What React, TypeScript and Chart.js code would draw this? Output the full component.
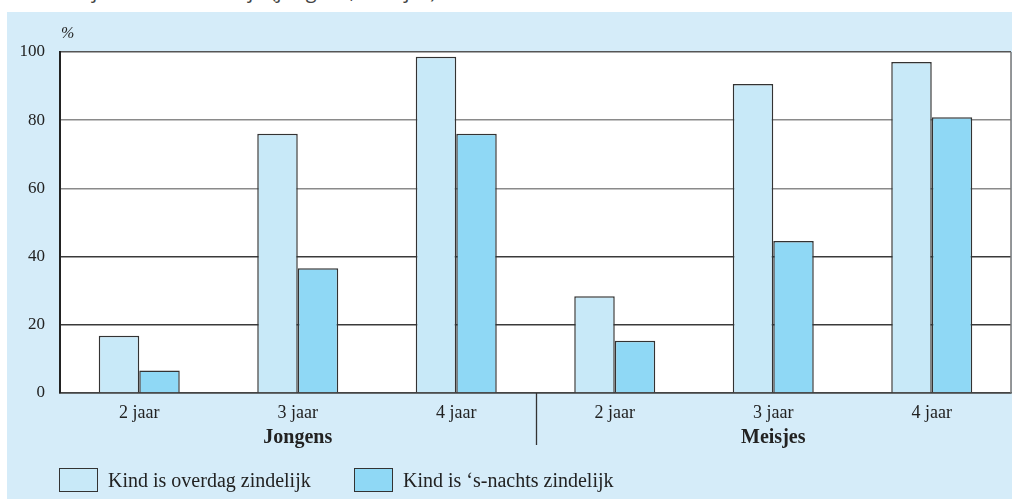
import React, { useEffect, useRef } from "react";
import { Chart, registerables } from "chart.js";

Chart.register(...registerables);

const categories = ["2 jaar", "3 jaar", "4 jaar", "2 jaar", "3 jaar", "4 jaar"];
const groups = ["Jongens", "Meisjes"];
const seriesNames = ["Kind is overdag zindelijk", "Kind is \u2018s-nachts zindelijk"];
const overdag = [16.8, 76.0, 98.6, 28.4, 90.6, 97.1];
const snachts = [6.6, 36.6, 76.0, 15.3, 44.6, 80.9];
const yTicks = [0, 20, 40, 60, 80, 100];
const unitLabel = "%";
const captionText = "Zindelijkheid naar leeftijd (jongens, meisjes)";

const LIGHT = "#c8e9f8";
const DARK = "#8fd8f5";
const PANEL = "#d5ecf9";
const FONT = "'Liberation Serif', 'Times New Roman', serif";

const decorPlugin = {
  id: "decor",
  beforeDraw(chart: any) {
    const { ctx, chartArea } = chart;
    ctx.save();
    ctx.fillStyle = "#ffffff";
    ctx.fillRect(chartArea.left, chartArea.top, chartArea.right - chartArea.left, chartArea.bottom - chartArea.top);
    ctx.restore();
  },
  afterDraw(chart: any) {
    const { ctx, chartArea, scales } = chart;
    const xs = scales.x;
    ctx.save();
    // right border of plot
    ctx.strokeStyle = "#777";
    ctx.lineWidth = 1.5;
    ctx.beginPath();
    ctx.moveTo(chartArea.right, chartArea.top);
    ctx.lineTo(chartArea.right, chartArea.bottom);
    ctx.stroke();
    // group labels and separators
    ctx.fillStyle = "#222";
    ctx.font = `bold 20px ${FONT}`;
    ctx.textAlign = "center";
    ctx.textBaseline = "middle";
    const per = categories.length / groups.length;
    groups.forEach((g, gi) => {
      const a = xs.getPixelForValue(gi * per);
      const b = xs.getPixelForValue(gi * per + per - 1);
      ctx.fillText(g, (a + b) / 2, chartArea.bottom + 45);
      if (gi > 0) {
        const prev = xs.getPixelForValue(gi * per - 1);
        const sx = Math.round((prev + a) / 2) + 0.5;
        ctx.strokeStyle = "#333";
        ctx.lineWidth = 1.3;
        ctx.beginPath();
        ctx.moveTo(sx, chartArea.bottom);
        ctx.lineTo(sx, chartArea.bottom + 52);
        ctx.stroke();
      }
    });
    // unit label
    ctx.font = `italic 16px ${FONT}`;
    ctx.textAlign = "left";
    ctx.fillText(unitLabel, chartArea.left + 1, chartArea.top - 18);
    ctx.restore();
  },
};

function gridColor(v: number) {
  if (v === 60 || v === 80) return "#8a8a8a";
  if (v === 100) return "#555";
  return "#3a3a3a";
}

export default function App() {
  const ref = useRef<HTMLCanvasElement | null>(null);

  useEffect(() => {
    document.body.style.margin = "0";
    const canvas = ref.current;
    if (!canvas) return;
    const chart = new Chart(canvas, {
      type: "bar",
      data: {
        labels: categories,
        datasets: [
          {
            label: seriesNames[0],
            data: overdag,
            backgroundColor: LIGHT,
            borderColor: "#333",
            borderWidth: 1.5,
          },
          {
            label: seriesNames[1],
            data: snachts,
            backgroundColor: DARK,
            borderColor: "#333",
            borderWidth: 1.5,
          },
        ],
      },
      options: {
        animation: false,
        responsive: false,
        devicePixelRatio: 1,
        layout: { padding: { left: 0, right: 1, top: 52, bottom: 0 } },
        datasets: { bar: { categoryPercentage: 0.511, barPercentage: 1.0 } },
        plugins: {
          legend: { display: false },
          tooltip: { enabled: false },
          title: { display: false },
        },
        scales: {
          x: {
            grid: { display: false, drawTicks: false },
            border: { display: true, color: "#444", width: 1.5 },
            ticks: {
              padding: 9,
              color: "#222",
              font: { family: FONT, size: 18 },
              maxRotation: 0,
              autoSkip: false,
            },
            afterFit(scale: any) {
              scale.height = 106;
            },
          },
          y: {
            min: 0,
            max: 100,
            afterBuildTicks(scale: any) {
              scale.ticks = yTicks.map((v) => ({ value: v }));
            },
            grid: {
              drawTicks: false,
              lineWidth: 1.5,
              color: (c: any) => gridColor(c.tick ? c.tick.value : 0),
            },
            border: { display: true, color: "#222", width: 2 },
            ticks: {
              padding: 15,
              color: "#222",
              font: { family: FONT, size: 17 },
            },
            afterFit(scale: any) {
              scale.width = 60;
            },
          },
        },
      },
      plugins: [decorPlugin],
    });
    return () => chart.destroy();
  }, []);

  const legendItems = [
    { label: seriesNames[0], color: LIGHT, boxLeft: 59, textLeft: 108 },
    { label: seriesNames[1], color: DARK, boxLeft: 354, textLeft: 403 },
  ];

  return (
    <div style={{ position: "fixed", left: 0, top: 0, width: 1012, height: 499, background: "#fff", overflow: "hidden" }}>
      <div style={{ position: "absolute", left: 0, top: 0, width: 1012, height: 12, overflow: "hidden" }}>
        <div
          style={{
            position: "absolute",
            left: 30,
            top: -19,
            fontFamily: "'Open Sans', sans-serif",
            fontSize: 20,
            lineHeight: "20px",
            whiteSpace: "nowrap",
            color: "#444",
          }}
        >
          {captionText}
        </div>
      </div>
      <div style={{ position: "absolute", left: 7, top: 12, right: 0, bottom: 0, background: PANEL }} />
      <canvas ref={ref} width={1012} height={499} style={{ position: "absolute", left: 0, top: 0, width: 1012, height: 499 }} />
      {legendItems.map((it, i) => (
        <React.Fragment key={i}>
          <div
            style={{
              position: "absolute",
              left: it.boxLeft,
              top: 468,
              width: 37,
              height: 22,
              background: it.color,
              border: "1.5px solid #333",
            }}
          />
          <div
            style={{
              position: "absolute",
              left: it.textLeft,
              top: 468,
              height: 24,
              lineHeight: "24px",
              fontFamily: FONT,
              fontSize: 20,
              color: "#222",
              whiteSpace: "nowrap",
            }}
          >
            {it.label}
          </div>
        </React.Fragment>
      ))}
    </div>
  );
}
